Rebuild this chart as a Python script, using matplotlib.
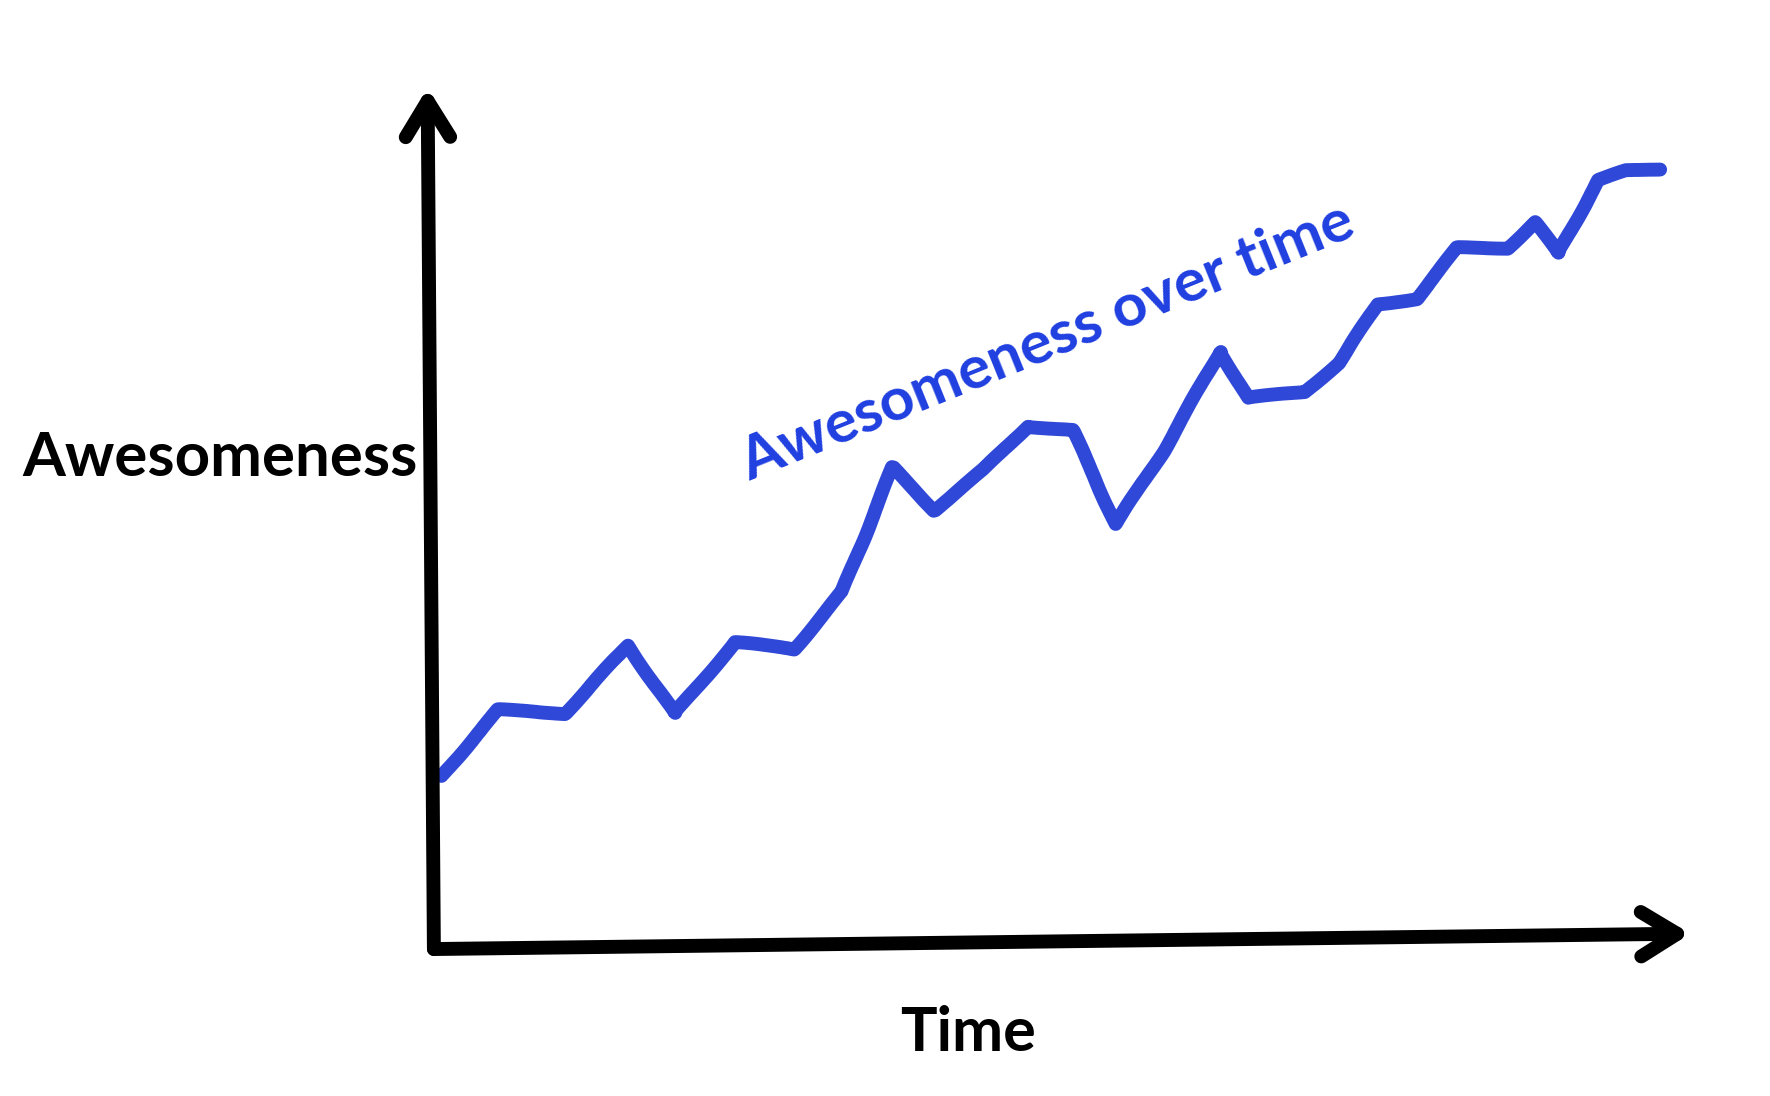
import matplotlib.pyplot as plt

# hand-drawn "awesomeness over time" sketch
time = [0.9, 5.4, 10.7, 15.7, 19.4, 24.2, 28.9, 32.7, 36.7, 40.0, 43.9, 47.4,
        51.0, 54.4, 58.2, 62.7, 64.9, 69.4, 72.1, 75.2, 78.3, 81.5, 85.5, 87.7,
        89.5, 92.7, 94.9, 97.6]
awesomeness = [19.7, 27.4, 27.0, 34.9, 27.0, 35.3, 34.5, 41.2, 55.7, 50.7, 55.4, 60.5,
               60.0, 49.1, 57.6, 69.2, 63.8, 64.5, 67.9, 74.7, 75.4, 81.3, 81.3, 84.3,
               80.7, 89.2, 90.3, 90.5]

plt.rcParams['font.family'] = ['Lato', 'DejaVu Sans']

fig = plt.figure(figsize=(17.7, 10.96), dpi=100)
ax = fig.add_axes([0.243, 0.138, 0.712, 0.782])
ax.set_xlim(0, 100)
ax.set_ylim(0, 100)
for s in ax.spines.values():
    s.set_visible(False)
ax.set_xticks([])
ax.set_yticks([])

line, = ax.plot(time, awesomeness, '-', color='#2f48d8', lw=10,
                solid_joinstyle='round', solid_capstyle='round')
line.set_sketch_params(scale=0.8, length=150, randomness=3)

# axes drawn as arrows
arrow = dict(arrowstyle='->,head_length=2.6,head_width=1.6', lw=10, color='black',
             capstyle='round', joinstyle='round', shrinkA=0, shrinkB=0)
ax.annotate('', xy=(-0.2, 100), xytext=(0.3, -0.5), xycoords='data',
            arrowprops=arrow, annotation_clip=False)
ax.annotate('', xy=(100, 1.3), xytext=(0.3, -0.5), xycoords='data',
            arrowprops=arrow, annotation_clip=False)

ax.text(-1.0, 56.8, 'Awesomeness', ha='right', va='center', fontsize=44.5,
        fontweight='bold', color='black', clip_on=False)
ax.text(42.7, -10.3, 'Time', ha='center', va='center', fontsize=44,
        fontweight='bold', color='black', clip_on=False)
ax.text(49.0, 70.3, 'Awesomeness over time', ha='center', va='center', fontsize=43.5,
        fontweight='bold', color='#1f3fe0', rotation=22, rotation_mode='anchor')

fig.savefig('out.png', dpi=100, facecolor='white')
